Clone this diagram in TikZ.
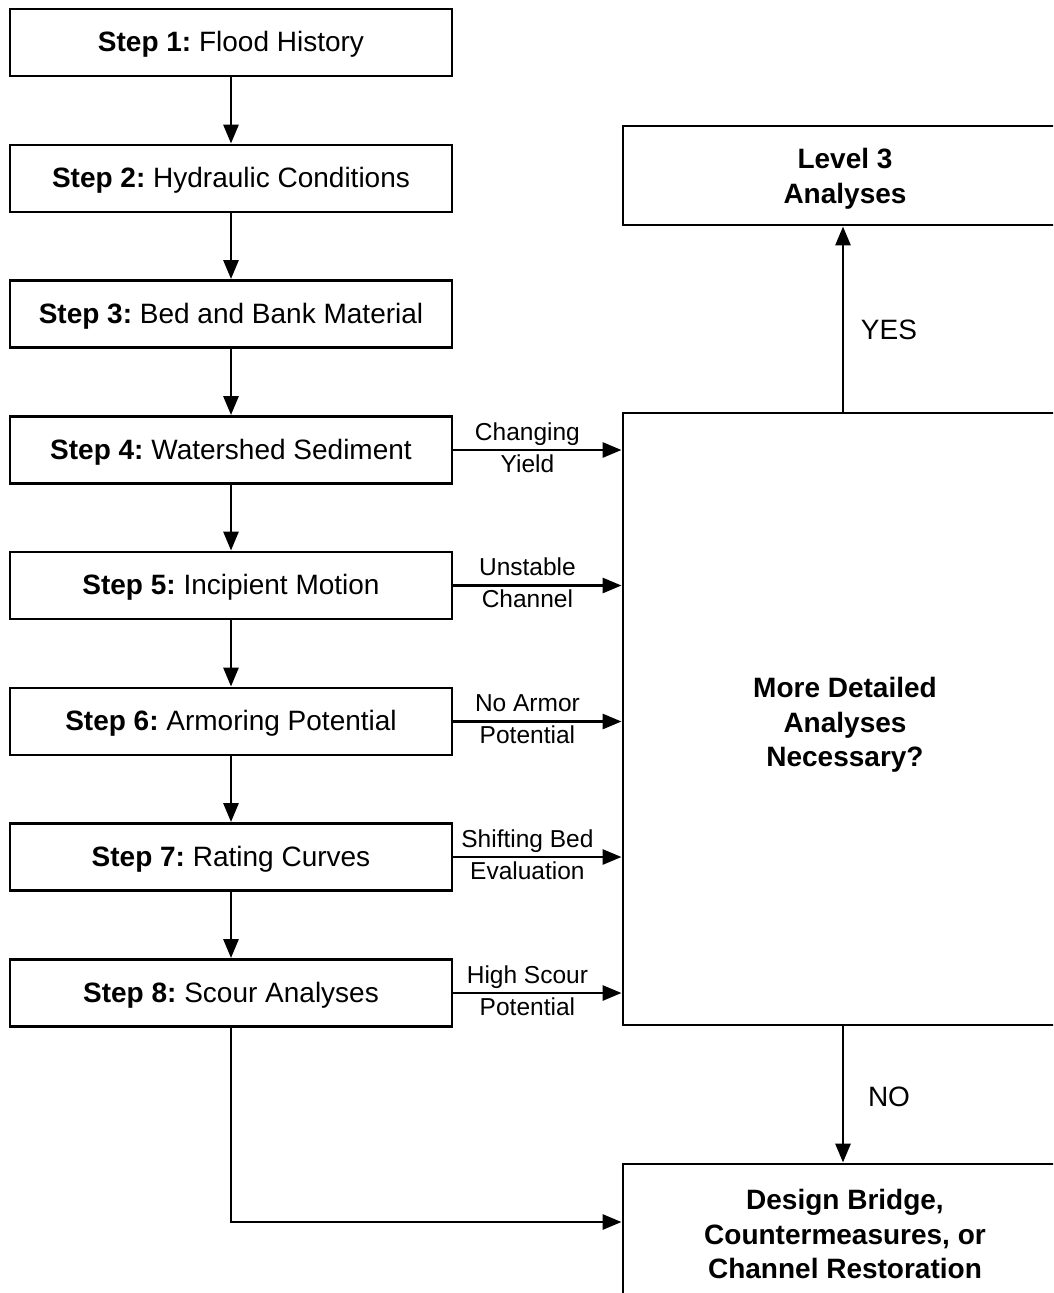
\documentclass[tikz,border=0pt]{standalone}
\usepackage{fontspec}
\setmainfont{Liberation Sans}
\usetikzlibrary{arrows.meta}
\frenchspacing
\begin{document}
\begin{tikzpicture}[x=1pt,y=-1pt,
  stepbox/.style={draw, line width=2.9pt, minimum width=442pt, minimum height=67pt, inner sep=0pt, text height=20pt, text depth=1.6pt, font=\fontsize{28}{34}\selectfont},
  bigbox/.style={draw, line width=2.9pt, minimum width=444pt, inner sep=0pt},
  btext/.style={align=center, inner sep=0pt, font=\fontsize{28}{34.5}\selectfont\bfseries},
  conn/.style={line width=2.9pt, -{Triangle[length=19pt,width=15pt]}},
  elabel/.style={font=\fontsize{24.5}{28}\selectfont, text height=17pt, text depth=5pt, inner sep=0pt},
  yn/.style={font=\fontsize{28}{34}\selectfont, inner sep=0pt}]
\clip (0,0) rectangle (1053,1293);
\fill[white] (0,0) rectangle (1053,1293);
% step boxes
\node[stepbox] (s1) at (231,42.5) {\textbf{Step 1:} Flood History};
\node[stepbox] (s2) at (231,178.5) {\textbf{Step 2:} Hydraulic Conditions};
\node[stepbox] (s3) at (231,314) {\textbf{Step 3:} Bed and Bank Material};
\node[stepbox] (s4) at (231,450) {\textbf{Step 4:} Watershed Sediment};
\node[stepbox] (s5) at (231,585.5) {\textbf{Step 5:} Incipient Motion};
\node[stepbox] (s6) at (231,721.5) {\textbf{Step 6:} Armoring Potential};
\node[stepbox] (s7) at (231,857) {\textbf{Step 7:} Rating Curves};
\node[stepbox] (s8) at (231,993) {\textbf{Step 8:} Scour Analyses};
% right boxes
\node[bigbox, minimum height=99pt] (l3) at (845,175.5) {};
\node[btext] (l3t) at (845,179) {Level 3\\Analyses};
\node[bigbox, minimum height=612pt] (q) at (845,719) {};
\node[btext] (qt) at (845,725) {More Detailed\\Analyses\\Necessary?};
\node[bigbox, minimum height=140pt] (d) at (845,1234) {};
\node[btext] (dt) at (845,1234) {Design Bridge,\\Countermeasures, or\\Channel Restoration};
% vertical connectors
\draw[conn] (s1.south) -- (s2.north);
\draw[conn] (s2.south) -- (s3.north);
\draw[conn] (s3.south) -- (s4.north);
\draw[conn] (s4.south) -- (s5.north);
\draw[conn] (s5.south) -- (s6.north);
\draw[conn] (s6.south) -- (s7.north);
\draw[conn] (s7.south) -- (s8.north);
% horizontal connectors
\draw[conn] (s4.east) -- (s4.east -| q.west)
  node[elabel, pos=0.44, yshift=16pt] {Changing}
  node[elabel, pos=0.44, yshift=-16pt] {Yield};
\draw[conn] (s5.east) -- (s5.east -| q.west)
  node[elabel, pos=0.44, yshift=16pt] {Unstable}
  node[elabel, pos=0.44, yshift=-16pt] {Channel};
\draw[conn] (s6.east) -- (s6.east -| q.west)
  node[elabel, pos=0.44, yshift=16pt] {No Armor}
  node[elabel, pos=0.44, yshift=-16pt] {Potential};
\draw[conn] (s7.east) -- (s7.east -| q.west)
  node[elabel, pos=0.44, yshift=16pt] {Shifting Bed}
  node[elabel, pos=0.44, yshift=-16pt] {Evaluation};
\draw[conn] (s8.east) -- (s8.east -| q.west)
  node[elabel, pos=0.44, yshift=16pt] {High Scour}
  node[elabel, pos=0.44, yshift=-16pt] {Potential};
% yes / no
\draw[conn] (q.north -| 843,0) -- (l3.south -| 843,0);
\node[yn] (yes) at (889,330) {YES};
\draw[conn] (q.south -| 843,0) -- (d.north -| 843,0);
\node[yn] (no) at (889,1097) {NO};
% step 8 to design
\coordinate (turn) at (231,1222);
\draw[conn] (s8.south) -- (turn) -- (turn -| d.west);
\end{tikzpicture}
\end{document}
